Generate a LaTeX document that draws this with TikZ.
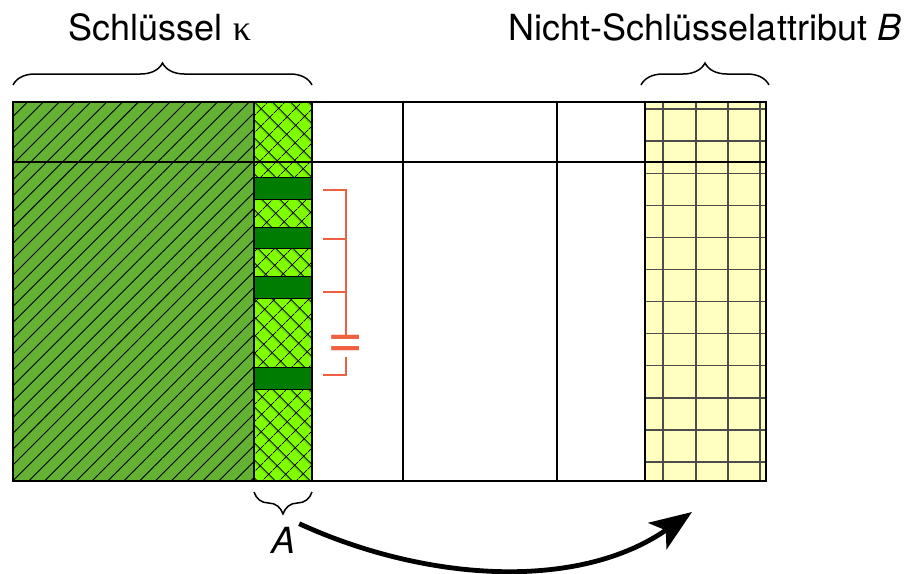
\documentclass[tikz,border=0pt]{standalone}
\usepackage{fontspec}
\setmainfont{TeX Gyre Heros}
\newfontfamily\greekfont{Liberation Serif}
\usetikzlibrary{patterns.meta,decorations.pathreplacing,arrows.meta}
\definecolor{keygreen}{RGB}{99,178,51}
\definecolor{limegreen}{RGB}{128,255,0}
\definecolor{bargreen}{RGB}{0,125,0}
\definecolor{attryellow}{RGB}{255,255,192}
\definecolor{eqred}{RGB}{238,96,64}
\begin{document}
\begin{tikzpicture}
[x=1pt,y=-1pt,>={Stealth[length=42pt,width=32pt,inset=10pt]},
 txt/.style={font=\fontsize{36}{40}\selectfont,inner sep=3pt},
 rule/.style={draw=black,line width=1.6pt},
 gridline/.style={draw=black!70,line width=1.3pt},
 keyhatch/.style={preaction={fill=keygreen},pattern={Lines[angle=45,distance=11.2pt,line width=0.9pt]}},
 acol/.style={preaction={fill=limegreen},pattern={Hatch[angle=45,distance=13pt,line width=1pt]}},
 dupbar/.style={fill=bargreen,draw=black,line width=0.8pt},
 brace/.style={decorate,decoration={brace,amplitude=22pt},line width=1.5pt},
 eqline/.style={draw=eqred,line width=1.3pt},]

\useasboundingbox (0,0) rectangle (913,573);

%Table columns and rows
\def\xL{13}
\def\xK{254}
\def\xA{312}
\def\xC{403}
\def\xD{557}
\def\xB{645}
\def\xR{766}
\def\yT{102}
\def\yH{162}
\def\yB{481}

%Key columns
\path[keyhatch] (\xL,\yT) rectangle (\xK,\yB);
\path[acol] (\xK,\yT) rectangle (\xA,\yB);
\foreach \ya/\yb in {177/199,227/248,276/298,367/389}
  \draw[dupbar] (\xK,\ya) rectangle (\xA,\yb);

%Attribute B
\fill[attryellow] (\xB,\yT) rectangle (\xR,\yB);
\foreach \gx in {663,696,728,760}
  \draw[gridline] (\gx,\yT) -- (\gx,\yB);
\foreach \k in {0,...,11}
  \draw[gridline] (\xB,{109+32.1*\k}) -- (\xR,{109+32.1*\k});

%Drawing table
\draw[rule] (\xL,\yT) rectangle (\xR,\yB);
\draw[rule] (\xL,\yH) -- (\xR,\yH);
\foreach \vx in {\xK,\xA,\xC,\xD,\xB}
  \draw[rule] (\vx,\yT) -- (\vx,\yB);

%Equal values
\draw[eqline] (323,190) -- (346,190) -- (346,337);
\draw[eqline] (346,357) -- (346,375) -- (323,375);
\draw[eqline] (323,239) -- (346,239);
\draw[eqline] (323,292) -- (346,292);
\node (eq) at (346,347)[font=\fontsize{62}{62}\selectfont,text=eqred,inner sep=0pt] {=};

%Braces
\draw[brace] (\xL,85) -- (\xA,85);
\draw[brace] (641,85) -- (769,85);
\draw[brace] (\xA,492) -- (\xK,492);

%Labels
\node (key) at (160,27)[txt] {Schlüssel {\greekfont κ}};
\node (nonkey) at (705,27)[txt] {Nicht-Schlüsselattribut \textit{B}};
\node (A) at (284,540)[txt] {\textit{A}};
\coordinate (target) at (692,512);

\draw[line width=4.8pt,->] (A.north east) .. controls (424,581) and (577,592) .. (target);

\end{tikzpicture}
\end{document}
